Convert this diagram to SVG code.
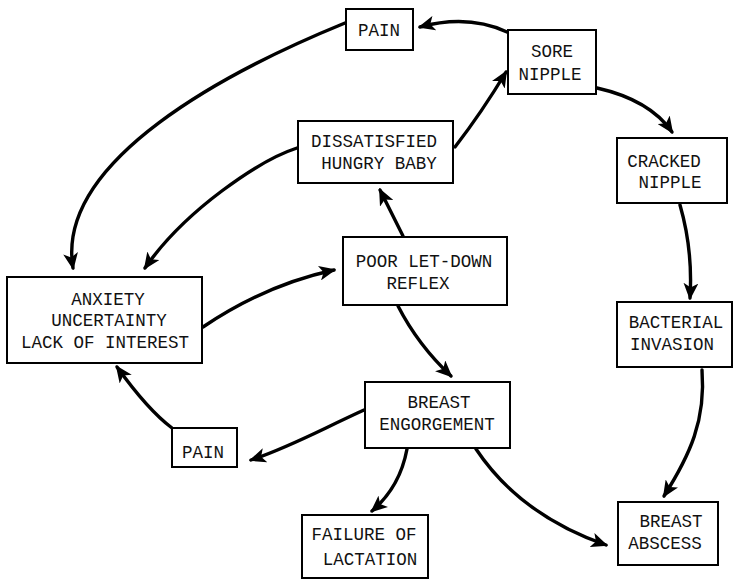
<svg xmlns="http://www.w3.org/2000/svg" width="734" height="581" viewBox="0 0 734 581">
<style>
.box{fill:#fff;stroke:#000;stroke-width:2}
.t{font-family:"Liberation Mono","Courier New",monospace;font-size:17.5px;fill:#111;text-anchor:middle}
.c{fill:none;stroke:#000;stroke-width:3.4;stroke-linecap:round}
</style>
<defs>
<marker id="ah" viewBox="0 0 16 14" refX="14" refY="7" markerWidth="17" markerHeight="15" markerUnits="userSpaceOnUse" orient="auto">
<path d="M0,0 L16,7 L0,14 L4,7 Z" fill="#000"/>
</marker>
</defs>
<rect width="734" height="581" fill="#fff"/>
<g id="connectors">
<path class="c" marker-end="url(#ah)" d="M507,32 Q468,14 420,27"/>
<path class="c" marker-end="url(#ah)" d="M345,23 C230,70 55,160 73,268"/>
<path class="c" marker-end="url(#ah)" d="M297,148 C260,160 185,210 145,268"/>
<path class="c" marker-end="url(#ah)" d="M455,147 Q482,112 506,72"/>
<path class="c" marker-end="url(#ah)" d="M597,88 Q650,100 672,132"/>
<path class="c" marker-end="url(#ah)" d="M680,205 Q693,250 690,298"/>
<path class="c" marker-end="url(#ah)" d="M702,370 C706,420 690,455 664,496"/>
<path class="c" marker-end="url(#ah)" d="M203,327 Q265,285 334,270"/>
<path class="c" marker-end="url(#ah)" d="M403,236 L380,190"/>
<path class="c" marker-end="url(#ah)" d="M398,306 Q418,345 451,376"/>
<path class="c" marker-end="url(#ah)" d="M364,410 C320,430 290,447 251,460"/>
<path class="c" marker-end="url(#ah)" d="M172,428 Q148,410 117,367"/>
<path class="c" marker-end="url(#ah)" d="M407,449 Q400,487 372,511"/>
<path class="c" marker-end="url(#ah)" d="M476,449 Q520,515 606,545"/>
</g>
<g id="pain-top"><rect class="box" x="346" y="9" width="67" height="41"/><text class="t" x="379" y="36">PAIN</text></g>
<g id="sore-nipple"><rect class="box" x="508" y="30" width="88" height="64"/><text class="t" x="552" y="57">SORE</text><text class="t" x="550" y="80">NIPPLE</text></g>
<g id="dissatisfied"><rect class="box" x="298" y="121" width="155" height="62"/><text class="t" x="374" y="147">DISSATISFIED</text><text class="t" x="379" y="169">HUNGRY BABY</text></g>
<g id="cracked-nipple"><rect class="box" x="617" y="138" width="110" height="65"/><text class="t" x="664" y="167">CRACKED</text><text class="t" x="670" y="188">NIPPLE</text></g>
<g id="anxiety"><rect class="box" x="7" y="277" width="195" height="86"/><text class="t" x="108" y="305">ANXIETY</text><text class="t" x="109" y="326">UNCERTAINTY</text><text class="t" x="105" y="348">LACK OF INTEREST</text></g>
<g id="poor-letdown"><rect class="box" x="343" y="237" width="164" height="68"/><text class="t" x="424" y="267">POOR LET-DOWN</text><text class="t" x="418" y="289">REFLEX</text></g>
<g id="bacterial"><rect class="box" x="617" y="302" width="115" height="65"/><text class="t" x="676" y="328">BACTERIAL</text><text class="t" x="672" y="350">INVASION</text></g>
<g id="engorgement"><rect class="box" x="365" y="382" width="145" height="66"/><text class="t" x="439" y="408">BREAST</text><text class="t" x="437" y="430">ENGORGEMENT</text></g>
<g id="pain-bottom"><rect class="box" x="172" y="428" width="65" height="39"/><text class="t" x="203" y="458">PAIN</text></g>
<g id="failure"><rect class="box" x="302" y="515" width="126" height="63"/><text class="t" x="364" y="540">FAILURE OF</text><text class="t" x="370" y="565">LACTATION</text></g>
<g id="abscess"><rect class="box" x="618" y="502" width="100" height="63"/><text class="t" x="671" y="527">BREAST</text><text class="t" x="665" y="549">ABSCESS</text></g>
</svg>
